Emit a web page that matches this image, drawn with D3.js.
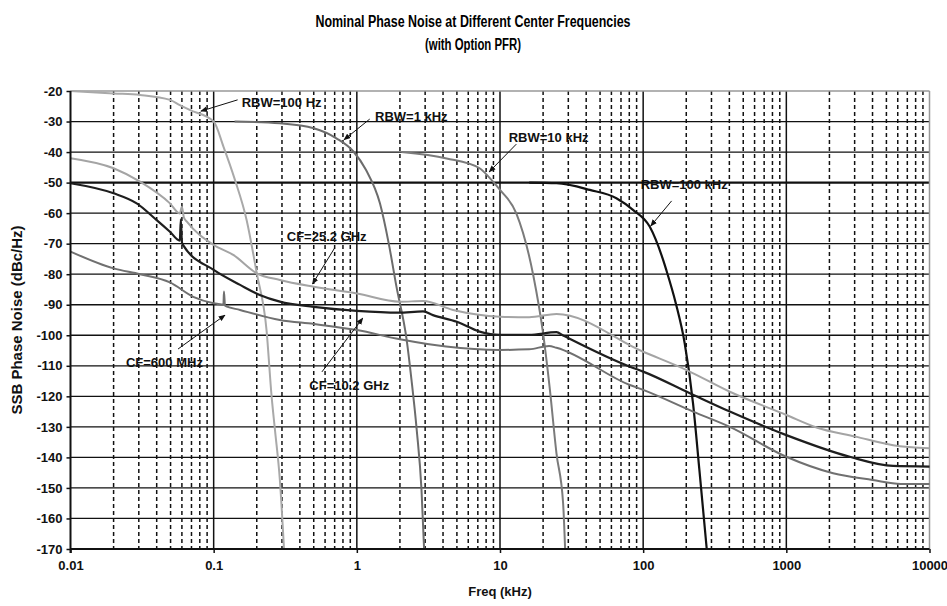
<!DOCTYPE html>
<html>
<head>
<meta charset="utf-8">
<script src="https://cdn.jsdelivr.net/npm/d3@7"></script>
<style>
  body { margin: 0; background: #fff; }
  svg { display: block; font-family: "Liberation Sans", Arial, sans-serif; }
  .tick-label { font-size: 13px; font-weight: bold; fill: #111; }
  .note { font-size: 13px; font-weight: bold; fill: #111; }
</style>
</head>
<body>
<svg id="main-svg" width="947" height="606"></svg>
<script>
// data (freq in kHz, level in dBc/Hz)
var cf10Freq = [0.01, 0.02, 0.029, 0.04, 0.0495, 0.058, 0.059, 0.06, 0.061, 0.1, 0.153, 0.21, 0.29, 0.5, 1.0, 1.95, 2.9, 3.4, 5.0, 7.2, 10, 16, 24.8, 27.6, 80.7, 100, 212, 403, 1000, 2775, 5570, 10000];
var cf10Val = [-50.2, -53.5, -56.8, -62.3, -66.1, -69.0, -62.0, -69.5, -70.4, -78.6, -83.5, -86.8, -89.0, -90.7, -92.0, -92.6, -92.2, -93.4, -95.6, -98.8, -99.9, -99.9, -99.0, -100.1, -110.3, -111.9, -119.0, -125.0, -132.7, -139.8, -142.8, -143.0];

var cf25Freq = [0.01, 0.02, 0.0306, 0.0495, 0.058, 0.06, 0.062, 0.065, 0.1, 0.137, 0.2, 0.29, 0.5, 1.0, 2.0, 2.9, 4.7, 10, 16, 24.8, 100, 201, 403, 1000, 1626, 3050, 5570, 10000];
var cf25Val = [-42.0, -45.3, -49.7, -56.8, -60.1, -57.9, -61.5, -62.8, -70.4, -73.7, -79.7, -81.9, -84.1, -86.3, -89.0, -88.8, -91.7, -93.9, -94.1, -93.0, -105.4, -111.4, -118.5, -126.1, -130.2, -133.2, -136.0, -137.0];

var cf600Freq = [0.01, 0.02, 0.0306, 0.0495, 0.072, 0.1, 0.117, 0.118, 0.12, 0.153, 0.29, 0.5, 1.0, 2.0, 4.2, 10, 16, 22, 24.8, 80.7, 100, 223, 403, 1000, 2122, 4000, 6300, 10000];
var cf600Val = [-72.6, -78.1, -80.0, -82.7, -87.4, -89.5, -90.0, -85.7, -90.3, -91.7, -95.0, -96.3, -98.3, -101.3, -103.7, -104.8, -104.6, -103.5, -104.1, -116.3, -117.9, -125.0, -130.0, -139.8, -145.2, -147.4, -148.7, -148.7];

var rbw100HzFreq = [0.01, 0.02, 0.0306, 0.0495, 0.058, 0.068, 0.1, 0.117, 0.141, 0.17, 0.2, 0.234, 0.254, 0.268, 0.29, 0.31];
var rbw100HzVal = [-20.0, -20.8, -21.3, -22.9, -24.6, -26.2, -30.0, -38.2, -49.2, -62.3, -79.7, -98.3, -120.1, -131.0, -147.4, -170];

var rbw1kFreq = [0.14, 0.29, 0.5, 0.72, 0.95, 1.16, 1.45, 1.67, 1.89, 2.23, 2.41, 2.62, 2.83, 2.95];
var rbw1kVal = [-30.0, -30.6, -32.2, -35.5, -39.9, -45.9, -56.8, -69.9, -84.0, -101.6, -114.7, -131.0, -150.7, -170];

var rbw10kFreq = [2.05, 4.24, 7.2, 8.4, 10, 13.0, 17.1, 20.0, 22.2, 24.8, 27.6, 28.5];
var rbw10kVal = [-40.0, -42.1, -45.3, -48.3, -52.4, -60.1, -80.5, -99.4, -116.9, -138.7, -155.1, -170];

var rbw100kFreq = [16, 24.8, 42.4, 65, 85.3, 111, 138, 145, 169, 195, 223, 247, 278];
var rbw100kVal = [-50.0, -50.2, -52.4, -55.1, -59.0, -64.4, -75.4, -78.6, -89.5, -102.6, -122.3, -144.1, -170];

var xTicks = [0.01, 0.1, 1, 10, 100, 1000, 10000];
var xTickLabels = ['0.01', '0.1', '1', '10', '100', '1000', '10000'];
var yTicks = [-20, -30, -40, -50, -60, -70, -80, -90, -100, -110, -120, -130, -140, -150, -160, -170];

// annotations: text position and arrow tail/head in data units
var noteText = ['RBW=100 Hz', 'RBW=1 kHz', 'RBW=10 kHz', 'RBW=100 kHz', 'CF=25.2 GHz', 'CF=10.2 GHz', 'CF=600 MHz'];
var noteAt = [[0.157, -23.9], [1.34, -28.2], [11.5, -35.1], [96, -50.5], [0.324, -67.7], [0.466, -116.3], [0.0244, -108.8]];
var noteTail = [[0.147, -22.9], [1.23, -29.2], [13.0, -37.4], [158, -56.0], [0.70, -71.4], [0.57, -112.0], [0.0564, -104.5]];
var noteHead = [[0.0815, -26.6], [0.813, -36.0], [8.4, -46.5], [113, -64.2], [0.49, -83.2], [1.10, -94.4], [0.12, -93.4]];

var svg = d3.select('#main-svg');
var pLeft = 70.5, pRight = 929.5, pTop = 91, pBottom = 549;

var x = d3.scaleLog().domain([0.01, 10000]).range([pLeft, pRight]);
var y = d3.scaleLinear().domain([-170, -20]).range([pBottom, pTop]);

// title
svg.append('text').attr('x', 473).attr('y', 27).attr('text-anchor', 'middle')
    .attr('textLength', 315).attr('lengthAdjust', 'spacingAndGlyphs')
    .style('font-size', '16px').style('font-weight', 'bold')
    .text('Nominal Phase Noise at Different Center Frequencies');
svg.append('text').attr('x', 473).attr('y', 50).attr('text-anchor', 'middle')
    .attr('textLength', 96).attr('lengthAdjust', 'spacingAndGlyphs')
    .style('font-size', '16px').style('font-weight', 'bold')
    .text('(with Option PFR)');

var grid = svg.append('g');

// minor vertical dashed lines
var minor = [];
for (var d = 0; d < 6; d++) {
    for (var k = 2; k <= 9; k++) minor.push(k * Math.pow(10, d - 2));
}
grid.selectAll('line.minor').data(minor).enter().append('line')
    .attr('class', 'minor')
    .attr('x1', function(v) { return x(v); }).attr('x2', function(v) { return x(v); })
    .attr('y1', pTop).attr('y2', pBottom)
    .attr('stroke', '#111').attr('stroke-width', 1.5).attr('stroke-dasharray', '4,3');

// horizontal grid
grid.selectAll('line.h').data(yTicks.filter(function(v) { return v > -170 && v < -20; })).enter().append('line')
    .attr('class', 'h')
    .attr('x1', pLeft).attr('x2', pRight)
    .attr('y1', function(v) { return y(v); }).attr('y2', function(v) { return y(v); })
    .attr('stroke', '#111').attr('stroke-width', function(v) { return v == -50 ? 2.2 : 1.3; });

// major vertical lines
grid.selectAll('line.major').data(xTicks.slice(1, -1)).enter().append('line')
    .attr('class', 'major')
    .attr('x1', function(v) { return x(v); }).attr('x2', function(v) { return x(v); })
    .attr('y1', pTop).attr('y2', pBottom)
    .attr('stroke', '#111').attr('stroke-width', 1.5);

// top and right border
grid.append('line').attr('x1', pLeft).attr('x2', pRight).attr('y1', pTop).attr('y2', pTop)
    .attr('stroke', '#999').attr('stroke-width', 1.5);
grid.append('line').attr('x1', pRight).attr('x2', pRight).attr('y1', pTop).attr('y2', pBottom)
    .attr('stroke', '#999').attr('stroke-width', 1.5);

// curves
var series = [
    [rbw100HzFreq, rbw100HzVal, '#a9a9a9', 2],
    [rbw1kFreq, rbw1kVal, '#6c6c6c', 2],
    [rbw10kFreq, rbw10kVal, '#7b7b7b', 2],
    [rbw100kFreq, rbw100kVal, '#111111', 2.2],
    [cf600Freq, cf600Val, '#707070', 2],
    [cf25Freq, cf25Val, '#a4a4a4', 2],
    [cf10Freq, cf10Val, '#1e1e1e', 2.2]
];
var line = d3.line()
    .x(function(p) { return x(p[0]); })
    .y(function(p) { return y(p[1]); })
    .curve(d3.curveMonotoneX);
var plot = svg.append('g');
series.forEach(function(s) {
    var pts = s[0].map(function(f, i) { return [f, s[1][i]]; });
    plot.append('path').datum(pts)
        .attr('d', line)
        .attr('fill', 'none')
        .attr('stroke', s[2])
        .attr('stroke-width', s[3])
        .attr('stroke-linejoin', 'round');
});

// axes
var xAxis = d3.axisBottom(x).tickValues(xTicks).tickSize(4)
    .tickFormat(function(v, i) { return xTickLabels[i]; });
var gx = svg.append('g').attr('transform', 'translate(0,' + pBottom + ')').call(xAxis);
gx.selectAll('.tick line').attr('stroke', '#111').attr('stroke-width', 1.5);
gx.selectAll('.tick text').attr('class', 'tick-label').attr('dy', '1.05em');

var yAxis = d3.axisLeft(y).tickValues(yTicks).tickSize(4).tickFormat(d3.format('d'));
var gy = svg.append('g').attr('transform', 'translate(' + pLeft + ',0)').call(yAxis);
gy.selectAll('.tick line').attr('stroke', '#111').attr('stroke-width', 1.5);
gy.selectAll('.tick text').attr('class', 'tick-label').attr('x', -8)
    .text(function(v) { return '-' + Math.abs(v); });
svg.selectAll('.domain').remove();
gx.append('line').attr('x1', pLeft).attr('x2', pRight).attr('stroke', '#111').attr('stroke-width', 2);
gy.append('line').attr('y1', pTop).attr('y2', pBottom + 4).attr('stroke', '#111').attr('stroke-width', 2);

// axis titles
svg.append('text').attr('x', 500).attr('y', 596).attr('text-anchor', 'middle')
    .attr('class', 'note').text('Freq (kHz)');
svg.append('text').attr('transform', 'translate(22,' + (pTop + pBottom) / 2 + ') rotate(-90)')
    .attr('text-anchor', 'middle').attr('class', 'note').style('font-size', '15px')
    .text('SSB Phase Noise (dBc/Hz)');

// annotations with arrows
svg.append('defs').append('marker')
    .attr('id', 'arrow').attr('viewBox', '0 0 10 10')
    .attr('refX', 9).attr('refY', 5)
    .attr('markerWidth', 7).attr('markerHeight', 7)
    .attr('orient', 'auto')
    .append('path').attr('d', 'M0,1 L10,5 L0,9 Z').attr('fill', '#111');

var notes = svg.append('g');
noteText.forEach(function(t, i) {
    notes.append('line')
        .attr('x1', x(noteTail[i][0])).attr('y1', y(noteTail[i][1]))
        .attr('x2', x(noteHead[i][0])).attr('y2', y(noteHead[i][1]))
        .attr('stroke', '#111').attr('stroke-width', 1)
        .attr('marker-end', 'url(#arrow)');
    notes.append('text')
        .attr('class', 'note')
        .attr('x', x(noteAt[i][0])).attr('y', y(noteAt[i][1]))
        .attr('dy', '0.35em')
        .text(t);
});
</script>
</body>
</html>
